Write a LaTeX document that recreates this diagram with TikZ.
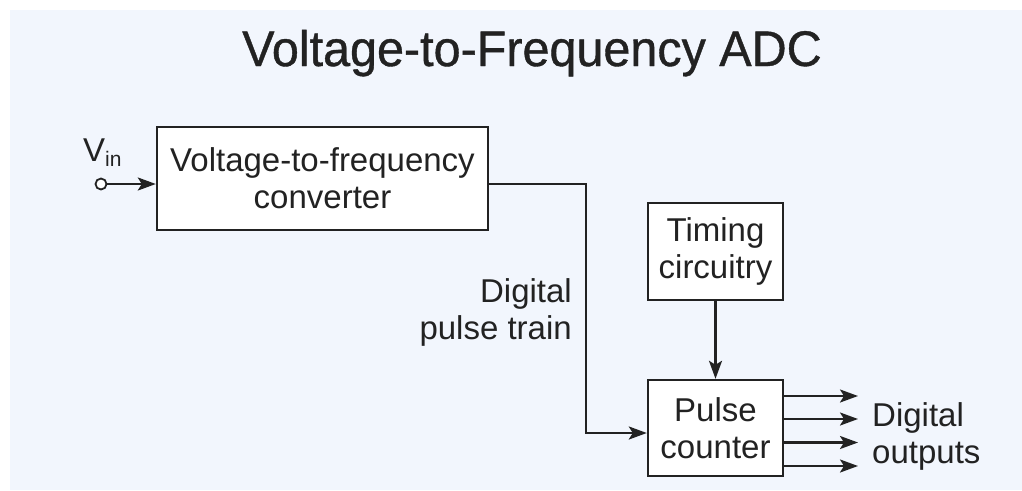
\documentclass[tikz,border=0pt]{standalone}
\usepackage{fontspec}
\setmainfont{Liberation Sans}
\newfontfamily\titlefont[FakeStretch=0.97,FakeBold=0.8]{Liberation Sans}
\usetikzlibrary{arrows.meta,calc}
\definecolor{bgblue}{HTML}{F2F6FD}
\definecolor{ink}{HTML}{222222}

\begin{document}
\begin{tikzpicture}[x=1pt,y=-1pt,
  blk/.style={draw=ink,line width=2.4pt,fill=white,rectangle,align=center,
    inner sep=0pt,font=\fontsize{33}{37}\selectfont,text=ink},
  lbl/.style={font=\fontsize{33}{37}\selectfont,text=ink,inner sep=0pt},
  wire/.style={draw=ink,line width=2.4pt},
  arr/.style={wire,-{Stealth[length=18pt,width=13pt,inset=4pt]}}]

% page and panel background
\useasboundingbox (0,0) rectangle (1022,490);
\fill[white] (0,0) rectangle (1022,490);
\fill[bgblue] (10,10) rectangle (1022,490);

% title
\node[text=ink,font=\titlefont\fontsize{50}{60}\selectfont,inner sep=0pt,anchor=base]
  (title) at (532,66) {Voltage-to-Frequency ADC};

% blocks
\node[blk,minimum width=331pt,minimum height=103pt] (vfc) at (322.5,178.5)
  {Voltage-to-frequency\\converter};
\node[blk,minimum width=135pt,minimum height=97pt] (timing) at (715.5,251.5)
  {Timing\\circuitry};
\node[blk,minimum width=135pt,minimum height=96pt] (counter) at (715.5,428)
  {Pulse\\counter};

% input terminal
\node[draw=ink,line width=1.8pt,circle,minimum size=11pt,inner sep=0pt,fill=white]
  (vin) at (101,184) {};
\node[lbl,anchor=base west] (vinlbl) at (83,161)
  {V\raisebox{-0.3ex}{\fontsize{21}{22}\selectfont in}};
\draw[arr] (vin.east) -- (vin.east -| vfc.west);

% digital pulse train
\coordinate (bend1) at (586,184);
\coordinate (bend2) at (586,433);
\draw[arr] (vfc.east |- bend1) -- (bend1) -- (bend2) -- (bend2 -| counter.west);
\node[lbl,align=right,anchor=east] (pulselbl) at (572,312) {Digital\\pulse train};

% timing to counter
\draw[arr] (timing.south) -- (counter.north);

% digital outputs
\coordinate (o1) at (858,396);
\coordinate (o2) at (858,419);
\coordinate (o3) at (858,442.5);
\coordinate (o4) at (858,466);
\foreach \o in {o1,o2,o3,o4}
  \draw[arr] (counter.east |- \o) -- (\o);
\node[lbl,align=left,anchor=west] (outlbl) at (872,436) {Digital\\outputs};
\end{tikzpicture}
\end{document}
